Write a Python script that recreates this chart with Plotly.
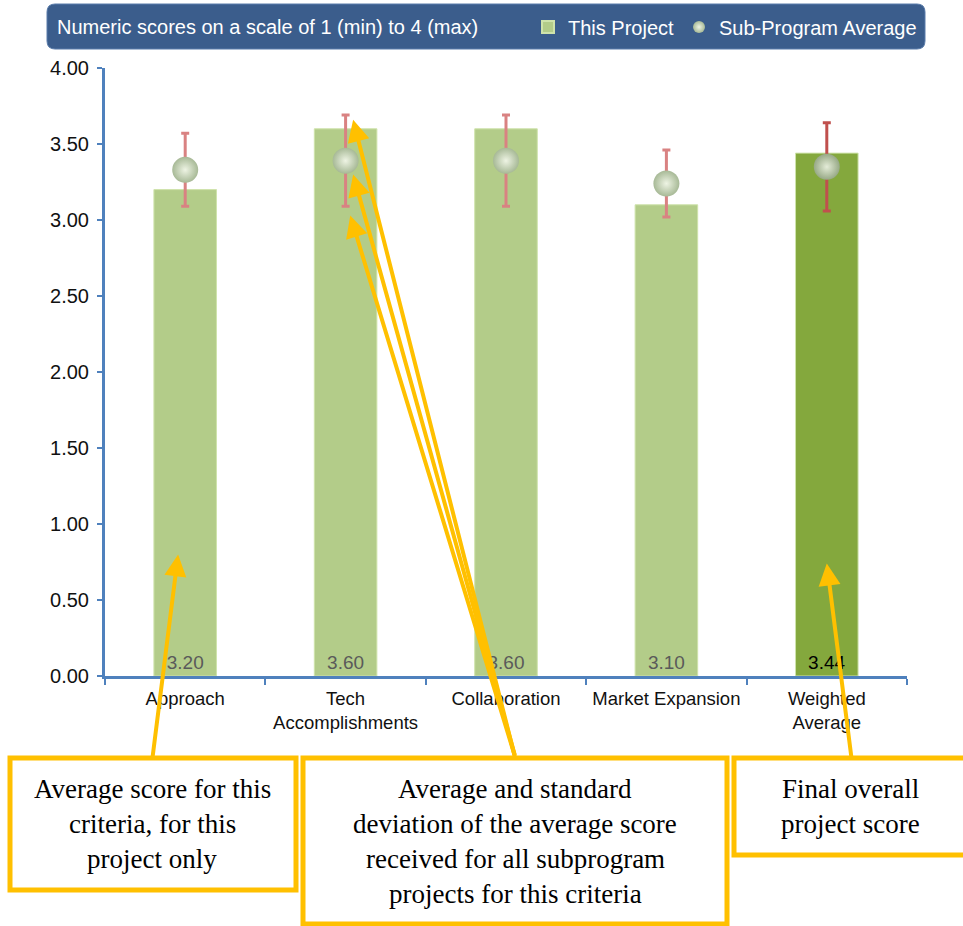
import plotly.graph_objects as go

# ---- data ----
categories = ["Approach", "Tech<br>Accomplishments", "Collaboration", "Market Expansion", "Weighted<br>Average"]
project_scores = [3.20, 3.60, 3.60, 3.10, 3.44]
subprogram_avg = [3.33, 3.39, 3.39, 3.24, 3.35]
subprogram_sd = [0.24, 0.30, 0.30, 0.22, 0.29]
y_ticks = [0, 0.5, 1.0, 1.5, 2.0, 2.5, 3.0, 3.5, 4.0]

header_text = "Numeric scores on a scale of 1 (min) to 4 (max)"
box1_lines = ["Average score for this", "criteria, for this", "project only"]
box2_lines = ["Average and standard", "deviation of the average score",
              "received for all subprogram", "projects for this criteria"]
box3_lines = ["Final overall", "project score"]

# ---- styles ----
W, H = 963, 926
ML, MR, MT, MB = 105, 56, 68, 250
PW, PH = W - ML - MR, H - MT - MB
SANS = "Arial, Liberation Sans, sans-serif"
SERIF = "Times New Roman, Liberation Serif, serif"
AXIS_BLUE = "#4f81bd"
YELLOW = "#ffc000"


def px2paper_x(px):
    return (px - ML) / PW


def px2paper_y(py):
    return (H - MB - py) / PH


bar_colors = ["#b3cc89"] * 4 + ["#84a83d"]
label_colors = ["#5a5a5a"] * 4 + ["#000000"]

fig = go.Figure()

fig.add_trace(go.Bar(
    x=categories, y=project_scores, name="This Project",
    width=0.39,
    marker=dict(color=bar_colors, line=dict(color="#cfe3ab", width=1)),
    texttemplate="%{y:.2f}", textposition="inside", insidetextanchor="start",
    textangle=0, textfont=dict(color=label_colors, size=19, family=SANS),
    hoverinfo="skip",
))

fig.add_trace(go.Scatter(
    x=categories[:4], y=subprogram_avg[:4], name="Sub-Program Average",
    mode="markers",
    marker=dict(size=26, color="#a7b996",
                gradient=dict(type="radial", color="#eef4e4"),
                line=dict(width=0)),
    error_y=dict(type="data", array=subprogram_sd[:4], color="#d98282",
                 thickness=3, width=4),
))
fig.add_trace(go.Scatter(
    x=categories[4:], y=subprogram_avg[4:], name="Sub-Program Average",
    mode="markers", showlegend=False,
    marker=dict(size=26, color="#97a986",
                gradient=dict(type="radial", color="#e4ecd8"),
                line=dict(width=0)),
    error_y=dict(type="data", array=subprogram_sd[4:], color="#c0504d",
                 thickness=3, width=4),
))

shapes = []
# header bar (rounded)
x0, x1 = px2paper_x(47), px2paper_x(925)
y0, y1 = px2paper_y(49), px2paper_y(4)
rx, ry = 8 / PW, 8 / PH
path = (f"M {x0+rx},{y1} L {x1-rx},{y1} Q {x1},{y1} {x1},{y1-ry} "
        f"L {x1},{y0+ry} Q {x1},{y0} {x1-rx},{y0} L {x0+rx},{y0} "
        f"Q {x0},{y0} {x0},{y0+ry} L {x0},{y1-ry} Q {x0},{y1} {x0+rx},{y1} Z")
shapes.append(dict(type="path", path=path, xref="paper", yref="paper",
                   fillcolor="#3b5d8c", line=dict(color="#5b7dab", width=1), layer="below"))

# annotation boxes
boxes = [(10, 758, 296, 890), (303, 758, 727, 924), (734, 758, 975, 855)]
for (bx0, by0, bx1, by1) in boxes:
    shapes.append(dict(type="rect", xref="paper", yref="paper",
                       x0=px2paper_x(bx0), x1=px2paper_x(bx1),
                       y0=px2paper_y(by1), y1=px2paper_y(by0),
                       fillcolor="white", line=dict(color=YELLOW, width=5), layer="above"))

annotations = []
annotations.append(dict(text=header_text, xref="paper", yref="paper",
                        x=px2paper_x(55), y=px2paper_y(27), xanchor="left", yanchor="middle",
                        showarrow=False, font=dict(color="white", size=20, family=SANS)))


def add_lines(lines, cx, y_first, spacing=35):
    for i, t in enumerate(lines):
        annotations.append(dict(text=t, xref="paper", yref="paper",
                                x=px2paper_x(cx), y=px2paper_y(y_first + i * spacing),
                                xanchor="center", yanchor="middle", showarrow=False,
                                font=dict(color="black", size=27, family=SERIF)))


add_lines(box1_lines, 152, 789)
add_lines(box2_lines, 515, 789)
add_lines(box3_lines, 850, 789)

# arrows: (tip x in category units, tip y in data, tail offset px)
arrows = [
    (-0.044, 0.80, -26, 206),
    (1.047, 3.66, 162, 638),
    (1.047, 3.30, 162, 582),
    (1.029, 3.03, 165, 542),
    (4.0, 0.74, 25, 197),
]
for (ax_, ay_, dx, dy) in arrows:
    annotations.append(dict(text="", x=ax_, y=ay_, xref="x", yref="y",
                            ax=dx, ay=dy, showarrow=True, arrowhead=2,
                            arrowsize=1.1, arrowwidth=4, arrowcolor=YELLOW,
                            standoff=0, startstandoff=0))

fig.update_layout(
    width=W, height=H,
    margin=dict(l=ML, r=MR, t=MT, b=MB, autoexpand=False),
    paper_bgcolor="white", plot_bgcolor="white",
    bargap=0.6,
    shapes=shapes, annotations=annotations,
    showlegend=True,
    legend=dict(orientation="h", x=px2paper_x(922), xanchor="right",
                y=px2paper_y(27), yanchor="middle",
                bgcolor="rgba(0,0,0,0)", font=dict(color="white", size=20, family=SANS),
                itemsizing="constant", itemwidth=30, tracegroupgap=0),
    font=dict(family=SANS, size=19, color="#222222"),
)
fig.update_xaxes(
    range=[-0.5, 4.5], showline=True, linecolor=AXIS_BLUE, linewidth=3,
    ticks="outside", tickson="boundaries", tickcolor=AXIS_BLUE, ticklen=6, tickwidth=2,
    showgrid=False, tickfont=dict(size=18.5, color="#111111"), ticklabelstandoff=4,
    tickangle=0, automargin=False,
)
fig.update_yaxes(
    range=[0, 4], tickvals=y_ticks, tickformat=".2f",
    showline=True, linecolor=AXIS_BLUE, linewidth=3,
    ticks="outside", tickcolor=AXIS_BLUE, ticklen=5, tickwidth=2,
    showgrid=False, zeroline=False, tickfont=dict(size=20, color="#111111"),
    ticklabelstandoff=4, automargin=False,
)

fig.write_html("out.html")
